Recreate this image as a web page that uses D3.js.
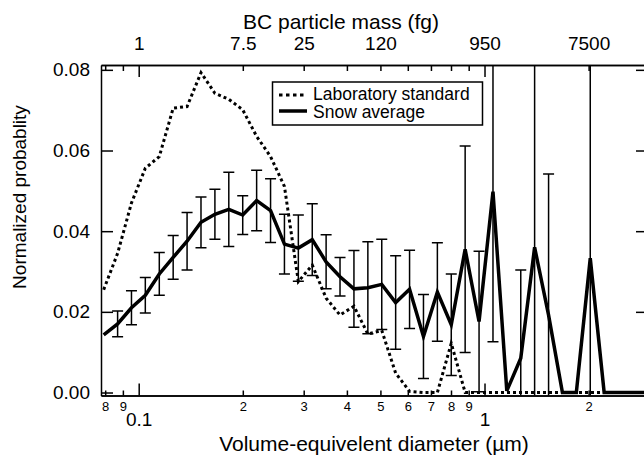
<!DOCTYPE html>
<html>
<head>
<meta charset="utf-8">
<script src="https://cdn.jsdelivr.net/npm/d3@7"></script>
<style>
  body { margin: 0; background: #fff; }
  svg { font-family: "Liberation Sans", Arial, sans-serif; }
</style>
</head>
<body>
<script>
// bin diameters (um)
const diameters = [0.0792,0.0869,0.0953,0.1045,0.1147,0.1258,0.1380,0.1514,0.1661,0.1822,
  0.1999,0.2193,0.2406,0.2639,0.2895,0.3176,0.3483,0.3821,0.4192,0.4599,
  0.5045,0.5534,0.6071,0.6660,0.7306,0.8014,0.8790,0.9643,1.058,1.160,
  1.273,1.396,1.532,1.680,1.843,2.022,2.218,2.433,2.669,2.928];

const labStandard = [0.0255,0.0345,0.0470,0.0556,0.0585,0.0705,0.0709,0.0793,0.0742,0.0727,
  0.0701,0.0635,0.0585,0.0511,0.0275,0.0316,0.0234,0.0192,0.0214,0.0145,
  0.0154,0.0048,0.0003,0,0,0.0122,0,0,0,0,
  0,0,0,0,0,0,0,0,0,0];

const snowAverage = [0.0143,0.0170,0.0210,0.0241,0.0294,0.0335,0.0375,0.0422,0.0442,0.0454,
  0.0440,0.0476,0.0451,0.0368,0.0358,0.0379,0.0324,0.0287,0.0257,0.0260,
  0.0268,0.0223,0.0256,0.0139,0.0249,0.0168,0.0355,0.0176,0.0498,0.0004,
  0.0085,0.0360,0.0192,0,0,0.0333,0,0,0,0];

const snowError = [0,0.0032,0.0042,0.0044,0.0053,0.0054,0.0071,0.0063,0.0062,0.0092,
  0.0048,0.0075,0.0079,0.0074,0.0082,0.0089,0.0067,0.0048,0.0095,0.0114,
  0.0112,0.0116,0.0097,0.0104,0.0122,0.0126,0.0256,0.0174,0.0372,0,
  0.0219,0.0520,0.0350,0,0,0.0520,0,0,0,0];

const yTicks = [0, 0.02, 0.04, 0.06, 0.08];
const xMajor = [0.1, 1];
const xMinor = [0.08, 0.09, 0.2, 0.3, 0.4, 0.5, 0.6, 0.7, 0.8, 0.9, 2];
const minorLabels = ["8", "9", "2", "3", "4", "5", "6", "7", "8", "9", "2"];
const massTicks = [0.1, 0.2, 0.3, 0.5, 1, 2];
const massLabels = ["1", "7.5", "25", "120", "950", "7500"];

const width = 644, height = 461;
const pLeft = 101, pRight = 648, pTop = 65, pBottom = 395.5;

const x = d3.scaleLog().domain([0.0778, 2.97]).range([pLeft, pRight]);
const y = d3.scaleLinear().domain([-0.00074, 0.0812]).range([pBottom, pTop]);

const svg = d3.select("body").append("svg")
  .attr("width", width)
  .attr("height", height);

svg.append("defs").append("clipPath").attr("id", "plot")
  .append("rect")
  .attr("x", pLeft).attr("y", pTop)
  .attr("width", pRight - pLeft).attr("height", pBottom - pTop);

// axes
function styleAxis(g) {
  g.selectAll("path, line").attr("stroke", "#000").attr("stroke-width", 1.5);
  g.selectAll("text").attr("fill", "#000");
}

svg.append("g")
  .attr("transform", "translate(0," + pBottom + ")")
  .call(d3.axisBottom(x).tickValues(xMinor).tickSize(-5).tickSizeOuter(0).tickPadding(6)
    .tickFormat((d, i) => minorLabels[i]))
  .call(styleAxis)
  .selectAll("text").attr("font-size", 13);

svg.append("g")
  .attr("transform", "translate(0," + pBottom + ")")
  .call(d3.axisBottom(x).tickValues(xMajor).tickSize(-12).tickSizeOuter(0).tickPadding(17)
    .tickFormat(d => d))
  .call(styleAxis)
  .selectAll("text").attr("font-size", 19);

svg.append("g")
  .attr("transform", "translate(0," + pTop + ")")
  .call(d3.axisTop(x).tickValues(xMinor).tickSize(-6).tickSizeOuter(0).tickFormat(""))
  .call(styleAxis);

svg.append("g")
  .attr("transform", "translate(0," + pTop + ")")
  .call(d3.axisTop(x).tickValues(xMajor).tickSize(-12).tickSizeOuter(0).tickFormat(""))
  .call(styleAxis);

svg.append("g")
  .attr("transform", "translate(0," + pTop + ")")
  .call(d3.axisTop(x).tickValues(massTicks).tickSize(0).tickPadding(15)
    .tickFormat((d, i) => massLabels[i]))
  .call(g => g.select(".domain").remove())
  .call(styleAxis)
  .selectAll("text").attr("font-size", 19);

svg.append("g")
  .attr("transform", "translate(" + pLeft + ",0)")
  .call(d3.axisLeft(y).tickValues(yTicks).tickSize(-12).tickSizeOuter(0).tickPadding(11)
    .tickFormat(d3.format(".2f")))
  .call(styleAxis)
  .selectAll("text").attr("font-size", 19);

svg.append("g")
  .attr("transform", "translate(" + pRight + ",0)")
  .call(d3.axisRight(y).tickValues(yTicks).tickSize(-12).tickSizeOuter(0).tickFormat(""))
  .call(styleAxis);

// titles
svg.append("text")
  .attr("x", 243).attr("y", 29)
  .attr("font-size", 21)
  .text("BC particle mass (fg)");

svg.append("text")
  .attr("x", 374).attr("y", 451)
  .attr("text-anchor", "middle")
  .attr("font-size", 21)
  .text("Volume-equivelent diameter (\u00b5m)");

svg.append("text")
  .attr("transform", "translate(26,197) rotate(-90)")
  .attr("text-anchor", "middle")
  .attr("font-size", 19)
  .text("Normalized probablity");

// data
const plot = svg.append("g").attr("clip-path", "url(#plot)");

const line = d3.line()
  .x(d => x(d[0]))
  .y(d => y(d[1]));

plot.append("path")
  .datum(diameters.map((d, i) => [d, labStandard[i]]))
  .attr("d", line)
  .attr("fill", "none")
  .attr("stroke", "#000")
  .attr("stroke-width", 3)
  .attr("stroke-dasharray", "3,3");

const bars = diameters.map((d, i) => ({ d: d, v: snowAverage[i], e: snowError[i] }))
  .filter(b => b.e > 0);

const eb = plot.selectAll(".err").data(bars).enter().append("g").attr("class", "err")
  .attr("stroke", "#000").attr("stroke-width", 1.5);

eb.append("line")
  .attr("x1", b => x(b.d)).attr("x2", b => x(b.d))
  .attr("y1", b => y(b.v + b.e)).attr("y2", b => y(b.v - b.e));
eb.append("line")
  .attr("x1", b => x(b.d) - 5.5).attr("x2", b => x(b.d) + 5.5)
  .attr("y1", b => y(b.v + b.e)).attr("y2", b => y(b.v + b.e));
eb.append("line")
  .attr("x1", b => x(b.d) - 5.5).attr("x2", b => x(b.d) + 5.5)
  .attr("y1", b => y(b.v - b.e)).attr("y2", b => y(b.v - b.e));

plot.append("path")
  .datum(diameters.map((d, i) => [d, snowAverage[i]]))
  .attr("d", line)
  .attr("fill", "none")
  .attr("stroke", "#000")
  .attr("stroke-width", 3.5)
  .attr("stroke-linejoin", "miter");

// legend
const legend = svg.append("g");
legend.append("rect")
  .attr("x", 272.5).attr("y", 82).attr("width", 210).attr("height", 43)
  .attr("fill", "#fff").attr("stroke", "#000").attr("stroke-width", 1.5);
legend.append("line")
  .attr("x1", 279).attr("x2", 307).attr("y1", 95).attr("y2", 95)
  .attr("stroke", "#000").attr("stroke-width", 3).attr("stroke-dasharray", "3.5,3.5");
legend.append("line")
  .attr("x1", 279).attr("x2", 307).attr("y1", 111).attr("y2", 111)
  .attr("stroke", "#000").attr("stroke-width", 3.5);
legend.append("text").attr("x", 313).attr("y", 100).attr("font-size", 17.5)
  .text("Laboratory standard");
legend.append("text").attr("x", 313).attr("y", 117.5).attr("font-size", 17.5)
  .text("Snow average");
</script>
</body>
</html>
